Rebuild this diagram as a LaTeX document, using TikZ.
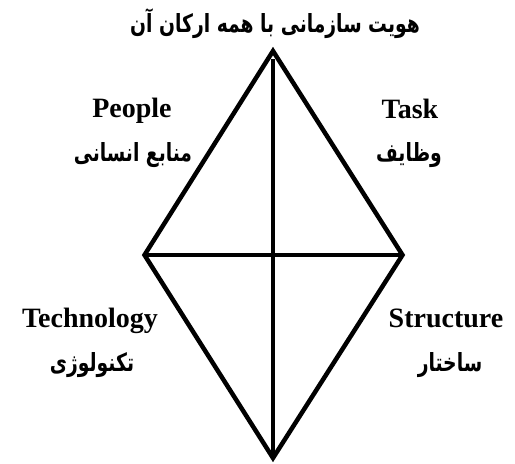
\documentclass[tikz,border=0pt]{standalone}
\usepackage{fontspec}
\setmainfont{Liberation Serif}
\newfontfamily\farsi[Script=Arabic,FakeStretch=0.75]{DejaVu Sans}
\TeXXeTstate=1
\usetikzlibrary{positioning}
\newcommand{\fa}[1]{{\farsi\bfseries\beginR #1\endR}}

\begin{document}
\begin{tikzpicture}[x=1pt,y=-1pt,
  en/.style={font=\fontsize{28}{30}\selectfont\bfseries,anchor=base,inner sep=0pt},
  fa/.style={font=\fontsize{25}{28}\selectfont,inner sep=0pt},
  edge/.style={line width=4.5pt}]
\useasboundingbox (0,0) rectangle (515,464);
\coordinate (top) at (273,51);
\coordinate (right) at (402.5,255);
\coordinate (bottom) at (273,458);
\coordinate (left) at (144.5,255);
\draw[edge,line join=miter](top)--(right)--(bottom)--(left)--cycle;
\draw[edge,shorten <=8pt,shorten >=4pt](top)--(bottom);
\draw[edge,shorten <=1pt,shorten >=2pt](left)--(right);
\node[fa](title) at (275,24){\fa{هویت سازمانی با همه ارکان آن}};
\node[en](people) at (132,117){People};
\node[fa](peoplefa) at (133,155){\fa{منابع انسانی}};
\node[en](task) at (410,118){Task};
\node[fa](taskfa) at (409,155){\fa{وظایف}};
\node[en](tech) at (90,327){Technology};
\node[fa](techfa) at (92,365){\fa{تکنولوژی}};
\node[en](struct) at (446,327){Structure};
\node[fa](structfa) at (450,365){\fa{ساختار}};
\end{tikzpicture}
\end{document}
